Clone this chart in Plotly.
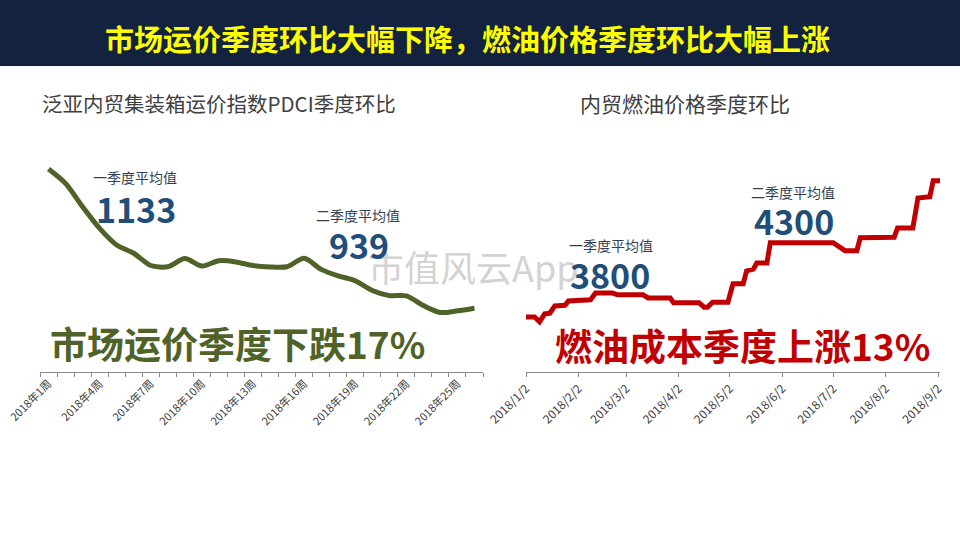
import plotly.graph_objects as go

# ---- data ----
weeks = [f"2018年{i}周" for i in range(1, 27)]
pdci = [1432, 1372, 1275, 1185, 1116, 1082, 1031, 1026, 1060, 1029, 1051, 1046, 1031,
        1025, 1026, 1061, 1015, 988, 968, 927, 906, 905, 865, 836, 843, 854]
week_label_every = 3

fuel_dates = ["2018-01-02", "2018-01-07", "2018-01-10", "2018-01-13", "2018-01-16", "2018-01-19",
              "2018-01-25", "2018-01-27", "2018-02-09", "2018-02-12", "2018-02-22", "2018-02-25",
              "2018-03-12", "2018-03-15", "2018-03-28", "2018-03-30", "2018-04-14", "2018-04-17",
              "2018-04-19", "2018-04-22", "2018-05-01", "2018-05-04", "2018-05-10", "2018-05-12",
              "2018-05-16", "2018-05-18", "2018-05-24", "2018-05-26", "2018-07-02", "2018-07-09",
              "2018-07-16", "2018-07-18", "2018-08-07", "2018-08-09", "2018-08-18", "2018-08-21",
              "2018-08-28", "2018-08-30", "2018-09-03"]
fuel = [3540, 3540, 3460, 3590, 3600, 3720, 3730, 3800, 3820, 3930, 3930, 3900,
        3900, 3850, 3850, 3770, 3770, 3700, 3700, 3780, 3780, 4080, 4080, 4290,
        4320, 4420, 4420, 4750, 4750, 4620, 4620, 4830, 4840, 4990, 4990, 5480,
        5500, 5760, 5760]
fuel_tickvals = ["2018-01-02", "2018-02-02", "2018-03-02", "2018-04-02", "2018-05-02",
                 "2018-06-02", "2018-07-02", "2018-08-02", "2018-09-02"]
fuel_ticktext = ["2018/1/2", "2018/2/2", "2018/3/2", "2018/4/2", "2018/5/2",
                 "2018/6/2", "2018/7/2", "2018/8/2", "2018/9/2"]

main_title = "市场运价季度环比大幅下降，燃油价格季度环比大幅上涨"
left_title = "泛亚内贸集装箱运价指数PDCI季度环比"
right_title = "内贸燃油价格季度环比"
q_labels = ["一季度平均值", "二季度平均值"]
pdci_avgs = ["1133", "939"]
fuel_avgs = ["3800", "4300"]
left_summary = "市场运价季度下跌17%"
right_summary = "燃油成本季度上涨13%"
watermark = "市值风云App"

W, H = 960, 540
FONT = "Noto Sans CJK SC"
GREEN = "#4F6228"
RED = "#C00000"
NAVY = "#1F4E79"
LABEL = "#333F50"


def px(x):
    return x / W


def py(y):
    return 1 - y / H


fig = go.Figure()
fig.add_trace(go.Scatter(x=weeks, y=pdci, mode="lines", xaxis="x", yaxis="y",
                         line=dict(color=GREEN, width=5, shape="spline", smoothing=0.8),
                         hoverinfo="skip", showlegend=False))
fig.add_trace(go.Scatter(x=fuel_dates, y=fuel, mode="lines", xaxis="x2", yaxis="y2",
                         line=dict(color=RED, width=5), hoverinfo="skip", showlegend=False))

ticktext_left = [w if i % week_label_every == 0 else "" for i, w in enumerate(weeks)]

fig.update_layout(
    width=W, height=H, margin=dict(l=0, r=0, t=0, b=0, autoexpand=False),
    paper_bgcolor="white", plot_bgcolor="white",
    font=dict(family=FONT, color="#404040"),
    xaxis=dict(domain=[px(40), px(483)], type="category", tickmode="array",
               tickvals=weeks, ticktext=ticktext_left, tickson="boundaries",
               ticks="outside", ticklen=4, tickcolor="#888", showline=True,
               linecolor="#888", linewidth=1, tickangle=-45, showgrid=False,
               tickfont=dict(size=11, color="#404040", family=FONT),
               range=[-0.5, 25.5], anchor="y", automargin=False),
    yaxis=dict(domain=[py(372), py(160)], range=[589, 1469], visible=False,
               showgrid=False, zeroline=False, anchor="x", automargin=False),
    xaxis2=dict(domain=[px(526), px(940)], type="date",
                range=["2018-01-02", "2018-09-03"], tickmode="array",
                tickvals=fuel_tickvals, ticktext=fuel_ticktext, ticks="outside",
                ticklen=4, tickcolor="#888", showline=True, linecolor="#888",
                linewidth=1, tickangle=-45, showgrid=False, automargin=False,
                tickfont=dict(size=12, color="#404040", family=FONT), anchor="y2"),
    yaxis2=dict(domain=[py(372), py(160)], range=[2643, 6098], visible=False,
                showgrid=False, zeroline=False, anchor="x2", automargin=False),
)

fig.add_shape(type="rect", xref="paper", yref="paper", x0=0, x1=1, y0=py(66), y1=1,
              fillcolor="#13223E", line=dict(width=0), layer="below")

ann = []


def add(text, x, y, size, color, bold=False, xanchor="center"):
    t = f"<b>{text}</b>" if bold else text
    ann.append(dict(text=t, x=px(x), y=py(y), xref="paper", yref="paper",
                    xanchor=xanchor, yanchor="middle", showarrow=False,
                    font=dict(family=FONT, size=size, color=color)))


add(main_title, 467, 38, 29, "#FFFF00", bold=True)
add(left_title, 40, 103, 20.5, "#404040", xanchor="left")
add(right_title, 578, 103, 21, "#404040", xanchor="left")
add(watermark, 366, 266, 36, "#D3D3D3", xanchor="left")
add(q_labels[0], 135, 177, 14, LABEL)
add(pdci_avgs[0], 136, 208, 34, NAVY, bold=True)
add(q_labels[1], 358, 215, 14, LABEL)
add(pdci_avgs[1], 359, 244, 34, NAVY, bold=True)
add(left_summary, 48, 343, 37, GREEN, bold=True, xanchor="left")
add(q_labels[0], 611, 245, 14, LABEL)
add(fuel_avgs[0], 610, 274, 34, NAVY, bold=True)
add(q_labels[1], 793, 192, 14, LABEL)
add(fuel_avgs[1], 794, 221, 34, NAVY, bold=True)
add(right_summary, 553, 345, 37, RED, bold=True, xanchor="left")

fig.update_layout(annotations=ann)
fig.write_html("out.html")
